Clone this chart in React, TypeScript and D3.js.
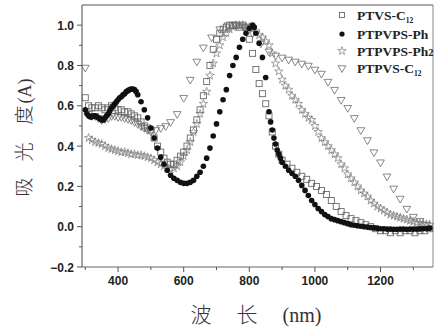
import React from "react";
import * as d3 from "d3";

// ---------- data ----------
const sqX = [300,310,320,330,340,350,360,370,380,390,400,410,420,430,440,450,460,470,480,490,500,510,520,530,540,550,560,570,580,590,600,610,620,630,640,650,660,670,680,690,700,710,720,730,740,750,760,770,780,790,800,810,820,830,840,850,860,870,880,890,900,915,930,945,960,975,990,1005,1020,1035,1050,1065,1080,1095,1110,1125,1140,1155,1170,1185,1200,1215,1230,1245,1260,1275,1290,1305,1320,1335,1350];
const sqY = [0.64,0.60,0.59,0.59,0.60,0.59,0.58,0.59,0.60,0.59,0.58,0.58,0.57,0.57,0.56,0.55,0.54,0.52,0.50,0.49,0.48,0.44,0.40,0.37,0.34,0.32,0.31,0.31,0.33,0.35,0.37,0.40,0.44,0.48,0.53,0.58,0.65,0.72,0.80,0.88,0.93,0.96,0.98,0.99,1.00,1.00,1.00,0.99,1.00,0.99,0.93,0.86,0.78,0.71,0.66,0.61,0.55,0.47,0.40,0.36,0.33,0.31,0.29,0.27,0.25,0.235,0.215,0.20,0.18,0.16,0.13,0.10,0.075,0.055,0.04,0.03,0.02,0.01,0.0,-0.01,-0.02,-0.02,-0.03,-0.02,-0.03,-0.02,-0.02,-0.03,-0.02,-0.02,-0.01];

const ciX = [300,305,310,315,320,325,330,335,340,345,350,355,360,365,370,375,380,385,390,395,400,405,410,415,420,425,430,435,440,445,450,455,460,470,480,490,500,510,520,530,540,550,560,570,580,590,600,610,620,630,640,650,660,670,680,690,700,710,720,730,740,750,760,770,780,790,800,810,815,820,830,840,850,860,865,870,875,880,885,890,895,900,910,920,930,940,950,960,970,980,990,1000,1010,1020,1030,1040,1050,1060,1070,1080,1090,1100,1110,1120,1130,1140,1150,1160,1170,1180,1190,1200,1210,1220,1230,1240,1250,1260,1270,1280,1290,1300,1310,1320,1330,1340,1350];
const ciY = [0.58,0.56,0.55,0.545,0.545,0.55,0.55,0.545,0.54,0.535,0.53,0.53,0.54,0.55,0.56,0.575,0.59,0.60,0.61,0.62,0.63,0.64,0.645,0.655,0.66,0.67,0.675,0.68,0.683,0.683,0.68,0.67,0.655,0.62,0.58,0.54,0.49,0.44,0.39,0.345,0.31,0.28,0.255,0.24,0.23,0.22,0.215,0.215,0.22,0.23,0.25,0.27,0.30,0.34,0.39,0.45,0.51,0.57,0.63,0.68,0.75,0.80,0.84,0.89,0.93,0.96,0.985,1.00,0.99,0.96,0.91,0.84,0.74,0.57,0.52,0.48,0.44,0.41,0.38,0.36,0.34,0.32,0.30,0.28,0.265,0.25,0.23,0.205,0.18,0.155,0.13,0.11,0.09,0.075,0.06,0.05,0.04,0.035,0.03,0.025,0.02,0.015,0.01,0.007,0.005,0.002,0.0,-0.002,-0.004,-0.006,-0.008,-0.01,-0.01,-0.012,-0.012,-0.013,-0.013,-0.012,-0.012,-0.013,-0.012,-0.012,-0.012,-0.011,-0.01,-0.01,-0.008];

const stX = [310,320,330,340,350,360,370,380,390,400,410,420,430,440,450,460,470,480,490,500,510,520,530,540,550,560,570,580,590,600,610,620,630,640,650,660,670,680,690,700,710,720,730,740,750,760,770,780,790,800,810,820,830,840,850,860,870,880,890,900,910,920,930,940,950,960,970,980,990,1000,1010,1020,1030,1040,1050,1060,1070,1080,1090,1100,1110,1120,1130,1140,1150,1160,1170,1180,1190,1200,1210,1220,1230,1240,1250,1260,1270,1280,1290,1300,1310,1320,1330,1340,1350];
const stY = [0.44,0.43,0.42,0.415,0.41,0.40,0.39,0.385,0.38,0.375,0.37,0.37,0.365,0.36,0.36,0.355,0.355,0.35,0.345,0.34,0.33,0.32,0.31,0.30,0.29,0.285,0.29,0.30,0.32,0.35,0.38,0.42,0.47,0.51,0.56,0.61,0.67,0.75,0.81,0.86,0.90,0.94,0.96,0.98,0.99,1.00,1.00,1.00,0.99,0.99,0.98,0.97,0.95,0.94,0.92,0.90,0.86,0.81,0.77,0.73,0.70,0.68,0.65,0.63,0.61,0.58,0.56,0.54,0.53,0.50,0.47,0.44,0.42,0.40,0.38,0.36,0.34,0.31,0.29,0.26,0.24,0.22,0.20,0.18,0.165,0.15,0.13,0.115,0.10,0.09,0.08,0.07,0.06,0.055,0.05,0.045,0.04,0.035,0.03,0.025,0.02,0.018,0.015,0.012,0.01];

const trX = [300,310,320,330,340,350,360,370,380,390,400,410,420,430,440,450,460,470,480,490,500,515,530,545,560,580,600,620,640,660,685,710,735,760,785,810,835,860,880,900,920,940,960,980,1000,1020,1040,1060,1080,1100,1120,1140,1160,1180,1200,1220,1240,1260,1280,1300,1320,1340];
const trY = [0.79,0.56,0.55,0.55,0.54,0.53,0.535,0.54,0.55,0.55,0.545,0.545,0.54,0.535,0.53,0.52,0.51,0.50,0.49,0.48,0.475,0.48,0.49,0.50,0.52,0.56,0.64,0.73,0.82,0.89,0.94,0.98,1.0,1.0,0.99,0.96,0.91,0.87,0.85,0.84,0.83,0.82,0.81,0.80,0.78,0.76,0.72,0.68,0.63,0.59,0.54,0.48,0.43,0.37,0.32,0.25,0.19,0.14,0.09,0.05,0.03,0.01];

const seriesNames = ["PTVS-C", "PTPVPS-Ph", "PTPVPS-Ph", "PTPVS-C"];
const seriesSubs = ["12", "", "2", "12"];
const xTicks = [400, 600, 800, 1000, 1200];
const xMinor = [300, 500, 700, 900, 1100, 1300];
const yTicks = [-0.2, 0.0, 0.2, 0.4, 0.6, 0.8, 1.0];
const yMinor = [-0.1, 0.1, 0.3, 0.5, 0.7, 0.9];
const yTitleParts = ["吸", "光", "度", "(A)"];
const xTitleParts = ["波", "长", "(nm)"];

// ---------- layout ----------
const W = 438, H = 333;
const L = 82, R = 433, T = 5, B = 267;

const x = d3.scaleLinear().domain([290, 1360]).range([L, R]);
const y = d3.scaleLinear().domain([-0.2, 1.1]).range([B, T]);

const star = d3.symbol().type(d3.symbolStar).size(22)() as string;
const tri = d3.symbol().type(d3.symbolTriangle).size(26)() as string;

function Square({ cx, cy, s = 6 }: { cx: number; cy: number; s?: number }) {
  return <rect x={cx - s / 2} y={cy - s / 2} width={s} height={s} fill="none" stroke="#6a6a6a" strokeWidth={0.9} />;
}
function Circle({ cx, cy, r = 2.8 }: { cx: number; cy: number; r?: number }) {
  return <circle cx={cx} cy={cy} r={r} fill="#111" />;
}
function Star({ cx, cy }: { cx: number; cy: number }) {
  return <path d={star} transform={`translate(${cx},${cy})`} fill="none" stroke="#7a7a7a" strokeWidth={0.7} />;
}
function Tri({ cx, cy }: { cx: number; cy: number }) {
  return <path d={tri} transform={`translate(${cx},${cy}) rotate(180)`} fill="none" stroke="#6a6a6a" strokeWidth={0.8} />;
}

export default function App() {
  const legendRows = [20, 39, 56, 73];
  const legendMarkers = [
    (cy: number) => <Square cx={342} cy={cy} s={5} />,
    (cy: number) => <Circle cx={342} cy={cy} r={2.6} />,
    (cy: number) => <Star cx={342} cy={cy} />,
    (cy: number) => <Tri cx={342} cy={cy} />,
  ];
  const subStyle = [
    { size: 7.5, dy: 3 },
    { size: 0, dy: 0 },
    { size: 10.5, dy: 0 },
    { size: 7.5, dy: 3 },
  ];
  const yTitlePos = [187, 152, 115, 91];
  const xTitlePos = [201, 247, 302];
  return (
    <svg width={W} height={H} style={{ position: "absolute", left: 0, top: 0, background: "#fff" }}>
      <rect x={0} y={0} width={W} height={H} fill="#fff" />
      {/* frame */}
      <line x1={L} x2={R} y1={T} y2={T} stroke="#555" strokeWidth={1} />
      <line x1={R} x2={R} y1={T} y2={B} stroke="#888" strokeWidth={1} />
      <line x1={L} x2={R} y1={B} y2={B} stroke="#666" strokeWidth={1.2} />
      <line x1={L} x2={L} y1={T} y2={B} stroke="#666" strokeWidth={1.2} />

      {/* y ticks */}
      {yTicks.map((t) => (
        <g key={"y" + t}>
          <line x1={L - 5} x2={L} y1={y(t)} y2={y(t)} stroke="#555" />
          <text x={L - 8} y={y(t) + 4.5} textAnchor="end" fontFamily="Liberation Sans, Arial, sans-serif" fontWeight="bold" fontSize={12} fill="#222">
            {d3.format(".1f")(t)}
          </text>
        </g>
      ))}
      {yMinor.map((t) => (
        <line key={"ym" + t} x1={L - 3} x2={L} y1={y(t)} y2={y(t)} stroke="#555" />
      ))}
      {/* x ticks */}
      {xTicks.map((t) => (
        <g key={"x" + t}>
          <line x1={x(t)} x2={x(t)} y1={B} y2={B + 5} stroke="#555" />
          <text x={x(t)} y={B + 18} textAnchor="middle" fontFamily="Liberation Sans, Arial, sans-serif" fontWeight="bold" fontSize={12} fill="#222">
            {t}
          </text>
        </g>
      ))}
      {xMinor.map((t) => (
        <line key={"xm" + t} x1={x(t)} x2={x(t)} y1={B} y2={B + 3} stroke="#555" />
      ))}

      {/* series */}
      <g>
        {trX.map((v, i) => <Tri key={"t" + i} cx={x(v)} cy={y(trY[i])} />)}
        {stX.map((v, i) => <Star key={"s" + i} cx={x(v)} cy={y(stY[i])} />)}
        {sqX.map((v, i) => <Square key={"q" + i} cx={x(v)} cy={y(sqY[i])} />)}
        {ciX.map((v, i) => <Circle key={"c" + i} cx={x(v)} cy={y(ciY[i])} />)}
      </g>

      {/* legend */}
      {seriesNames.map((n, i) => (
        <g key={"l" + i}>
          {legendMarkers[i](legendRows[i] - 5)}
          <text x={357} y={legendRows[i]} fontFamily="Liberation Serif, Times New Roman, serif" fontWeight="bold" fontSize={13.5} fill="#222">
            {n}
            {seriesSubs[i] && (
              <tspan fontSize={subStyle[i].size} dy={subStyle[i].dy}>{seriesSubs[i]}</tspan>
            )}
          </text>
        </g>
      ))}

      {/* y title */}
      {yTitleParts.map((p, i) => (
        <text key={"yt" + i} transform={`translate(31,${yTitlePos[i]}) rotate(-90)`} textAnchor="middle"
          fontFamily={p.length > 1 ? "Liberation Serif, serif" : "Noto Sans CJK SC, sans-serif"} fontWeight={300} fontSize={p.length > 1 ? 18 : 19} fill="#333">
          {p}
        </text>
      ))}
      {/* x title */}
      {xTitleParts.map((p, i) => (
        <text key={"xt" + i} x={xTitlePos[i]} y={322} textAnchor="middle"
          fontFamily={p.length > 1 ? "Liberation Serif, serif" : "Noto Sans CJK SC, sans-serif"} fontWeight={300} fontSize={p.length > 1 ? 20 : 21} fill="#333">
          {p}
        </text>
      ))}
    </svg>
  );
}
